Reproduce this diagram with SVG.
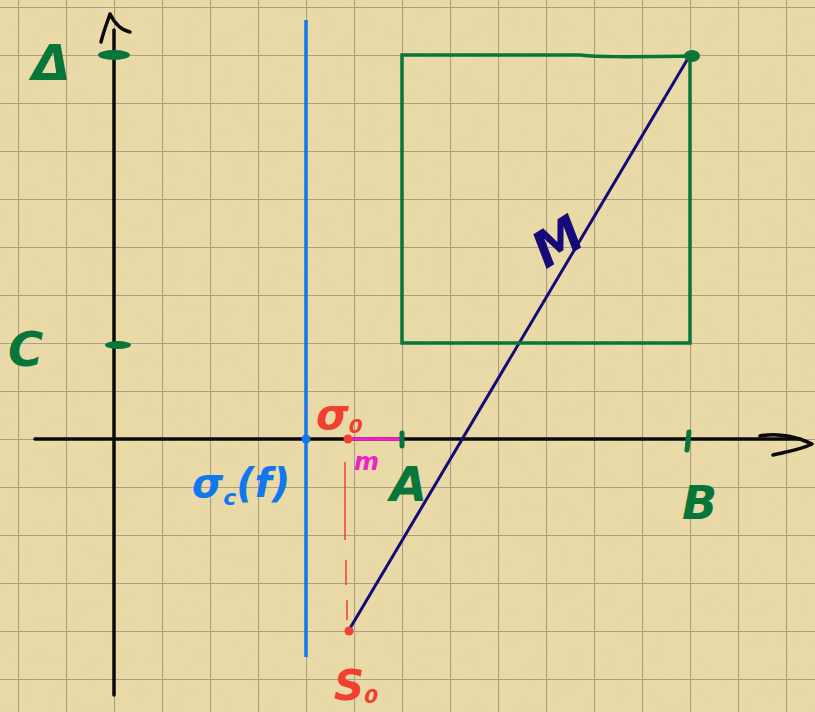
<svg xmlns="http://www.w3.org/2000/svg" width="815" height="712" viewBox="0 0 815 712">
<defs>
<filter id="paper" x="0" y="0" width="100%" height="100%">
<feTurbulence type="fractalNoise" baseFrequency="0.06" numOctaves="3" seed="4" result="n"/>
<feColorMatrix type="matrix" values="0 0 0 0 0.6  0 0 0 0 0.5  0 0 0 0 0.25  0 0 0 0.1 0"/>
</filter>
<pattern id="grid" x="18" y="7" width="48" height="48" patternUnits="userSpaceOnUse">
<path d="M0 0H48M0 0V48" fill="none" stroke="#9a907a" stroke-width="2.2" stroke-opacity="0.8"/>
</pattern>
<style>
.lbl{font-family:"DejaVu Sans","Liberation Sans",sans-serif;font-style:italic;font-weight:bold}
.green{fill:#08763a}
.gs{stroke:#08763a;fill:none;stroke-linecap:round}
.axis{stroke:#0a0a0a;stroke-width:3.5;fill:none;stroke-linecap:round;stroke-linejoin:round}
</style>
</defs>
<rect width="815" height="712" fill="#ebdba8"/>
<rect width="815" height="712" filter="url(#paper)"/>
<rect width="815" height="712" fill="url(#grid)"/>

<g id="connectors">
<path class="axis" d="M35 439H800"/>
<path class="axis" d="M760 436C780 432 800 438 812 444C800 450 785 452 773 455" stroke-width="3"/>
<path class="axis" d="M114 695V30"/>
<path class="axis" d="M101 42C104 30 108 20 110 14C114 22 120 30 130 32" stroke-width="3"/>
<path d="M306 20V657" stroke="#1177ee" stroke-width="3.5"/>
<circle cx="306" cy="439" r="4.5" fill="#1177ee"/>
<path d="M348 439H400" stroke="#f020c8" stroke-width="3.5"/>
<path d="M345 462V540M346 560V585M347 600V620" stroke="#f04030" stroke-width="1.5" fill="none"/>
<path d="M349 630L690 55" stroke="#160a78" stroke-width="3" stroke-linecap="round"/>
</g>

<g id="square">
<path class="gs" d="M402 343V55H580C600 57 620 57 690 56V343H402Z" stroke-width="3.5"/>
<ellipse cx="692" cy="56" rx="8" ry="6" fill="#08763a"/>
</g>

<g id="ticks">
<ellipse cx="114" cy="55" rx="16" ry="5" fill="#08763a"/>
<ellipse cx="118" cy="345" rx="13" ry="4" fill="#08763a"/>
<path class="gs" d="M402 433V446" stroke-width="5"/>
<path class="gs" d="M689 432L687 450" stroke-width="5"/>
</g>

<g id="sigma0">
<circle cx="348" cy="439" r="4.5" fill="#f04030"/>
<text class="lbl" x="316" y="429" font-size="42" fill="#f04030">σ<tspan font-size="20" dy="4">0</tspan></text>
</g>
<g id="m"><text class="lbl" x="354" y="470" font-size="24" fill="#f020c8">m</text></g>
<g id="A"><text class="lbl green" x="390" y="501" font-size="48">A</text></g>
<g id="B"><text class="lbl green" x="682" y="519" font-size="46">B</text></g>
<g id="C"><text class="lbl green" x="8" y="366" font-size="48">C</text></g>
<g id="Delta"><text class="lbl green" x="32" y="80" font-size="50">Δ</text></g>
<g id="M"><text class="lbl" x="528" y="262" font-size="50" fill="#160a78" transform="rotate(-32 550 235)">M</text></g>
<g id="sigmac"><text class="lbl" x="192" y="497" font-size="40" fill="#1177ee">σ<tspan font-size="22" dy="8">c</tspan><tspan dy="-8">(f)</tspan></text></g>
<g id="S0">
<circle cx="349" cy="631" r="4.5" fill="#f04030"/>
<text class="lbl" x="334" y="700" font-size="42" fill="#f04030">S<tspan font-size="20" dy="3">0</tspan></text>
</g>
</svg>
